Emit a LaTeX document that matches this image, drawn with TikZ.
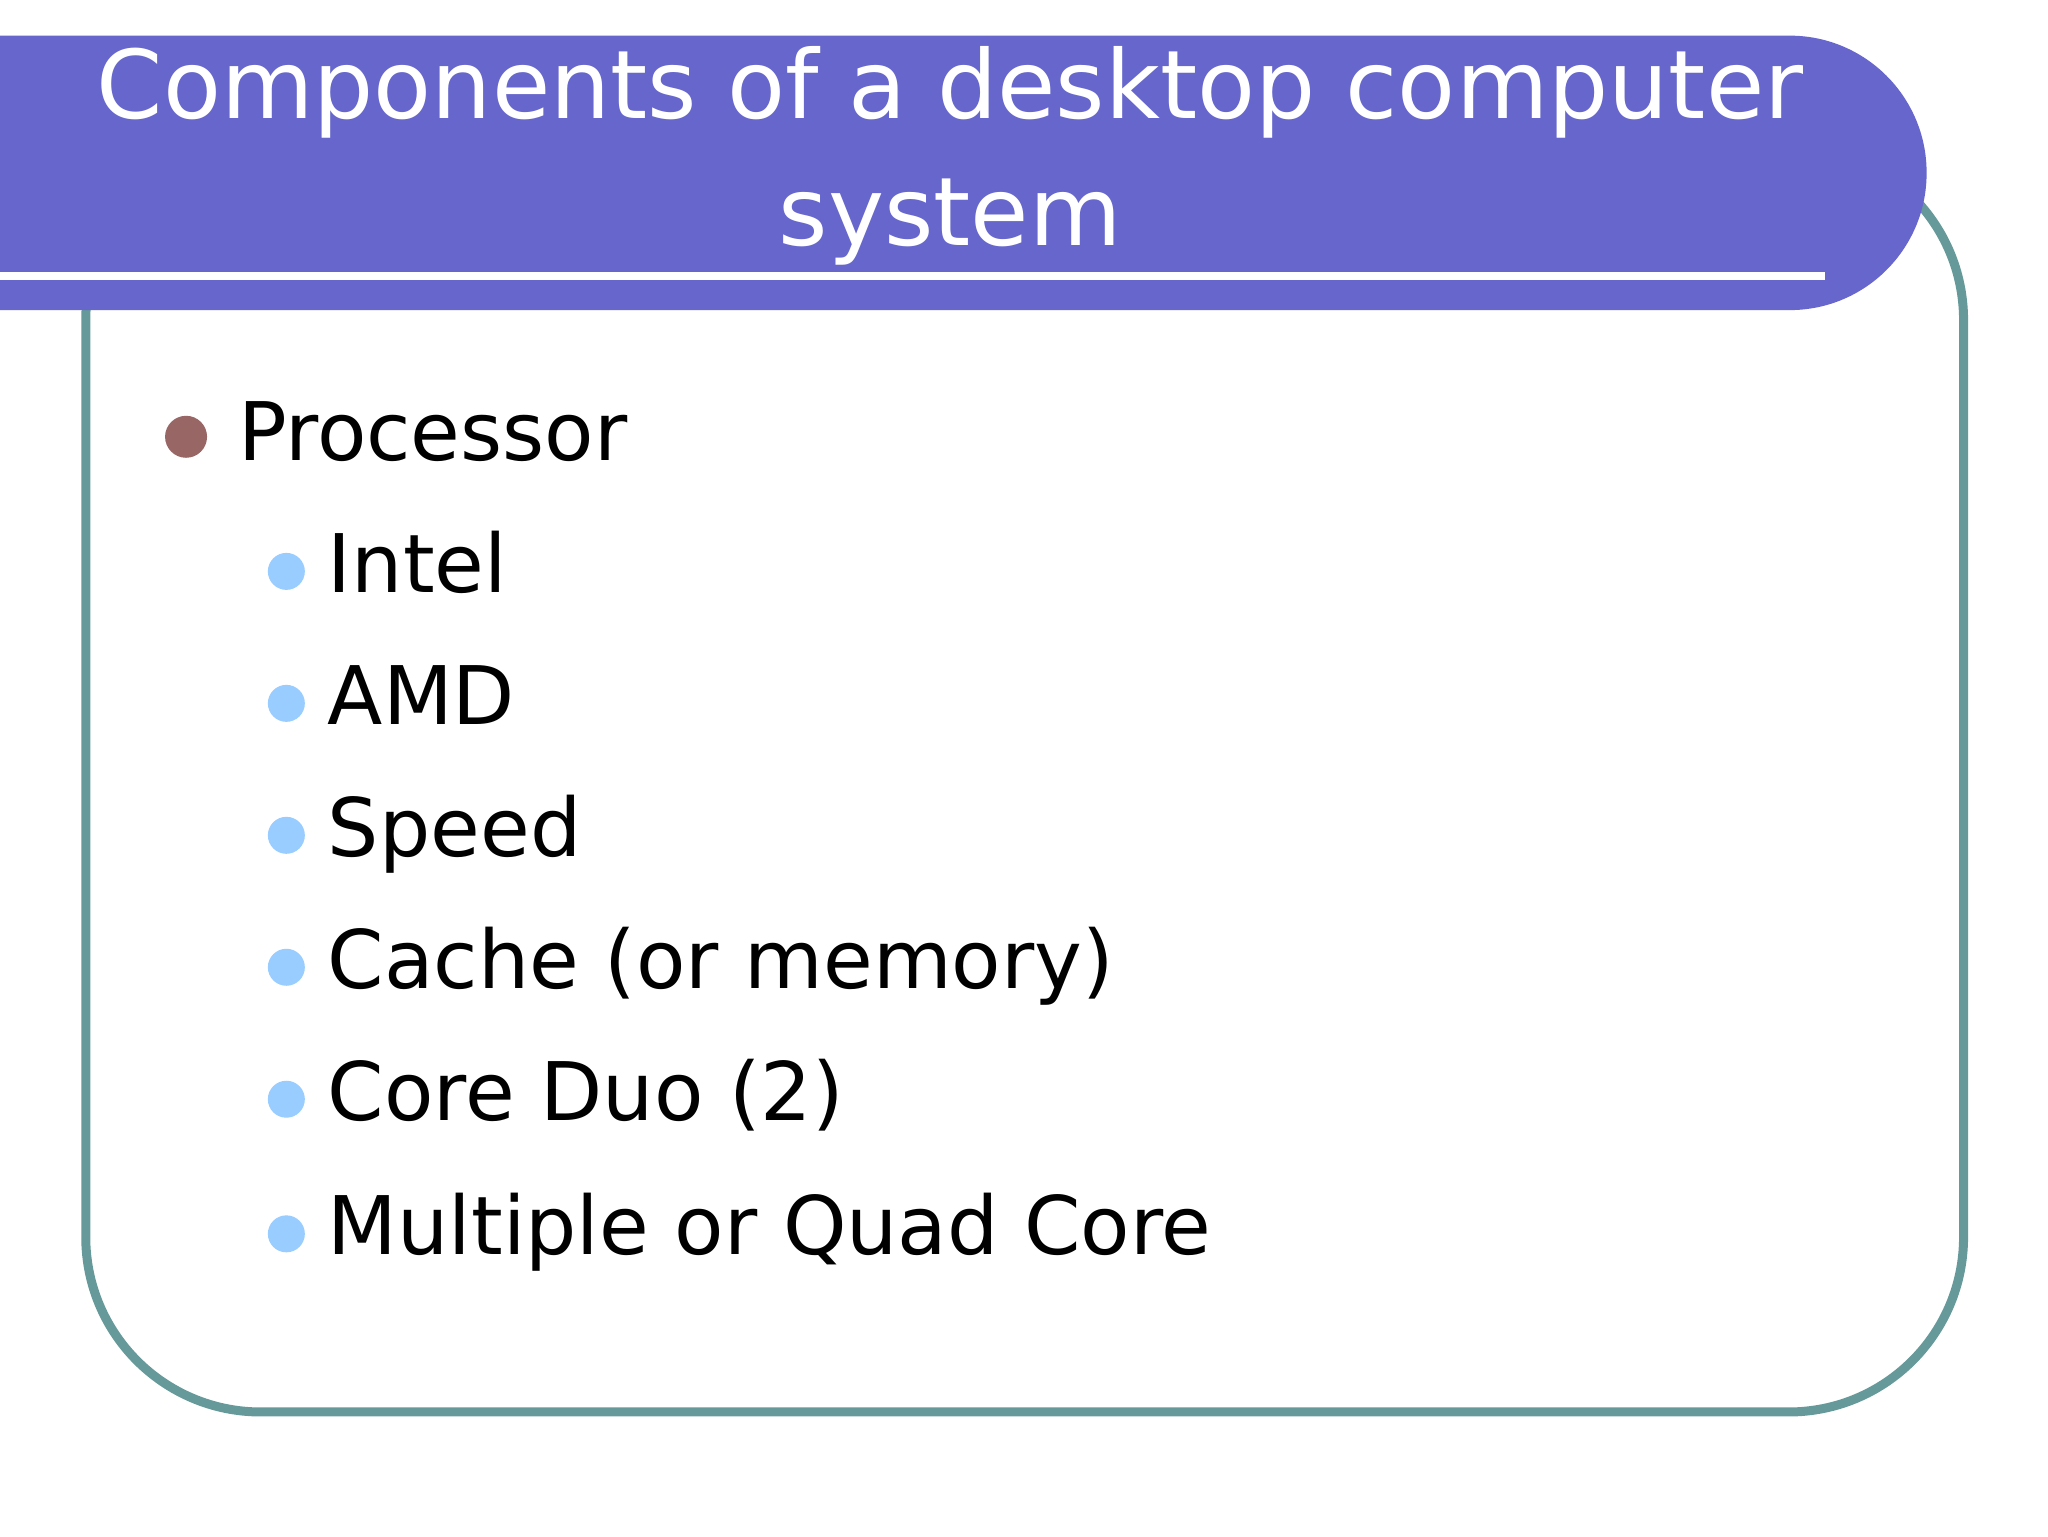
\documentclass[tikz,border=0pt]{standalone}
\usepackage{fontspec}
\setmainfont{DejaVu Sans}
\definecolor{teal1}{HTML}{669999}
\definecolor{hdr}{HTML}{6666CC}
\definecolor{brn}{HTML}{996666}
\definecolor{lblue}{HTML}{99CCFF}
\tikzset{sub/.style={anchor=base west,font=\fontsize{23}{27}\selectfont,inner sep=0pt},
 sdot/.style={circle,fill=lblue,minimum size=0.37cm,inner sep=0pt}}
\begin{document}
\begin{tikzpicture}[x=0.0132cm,y=-0.0132cm]
\useasboundingbox (0,0) rectangle (1552,1164);
\fill[white] (0,0) rectangle (1552,1164);
\draw[teal1,line width=0.09cm,rounded corners=1.75cm] (65,110) rectangle (1488,1070);
\fill[hdr,rounded corners=1.37cm] (-300,27) rectangle (1460,235);
\fill[white] (0,206) rectangle (1383,212);
\node[text=white,font=\fontsize{27}{36}\selectfont,align=center] (title) at (720,118) {Components of a desktop computer\\system};
\node[circle,fill=brn,minimum size=0.42cm,inner sep=0pt] (d0) at (141,331) {};
\node[sub] (t0) at (180,349) {Processor};
\foreach \y/\t [count=\i] in {433/Intel,533/AMD,633/Speed,733/Cache (or memory),833/Core Duo (2),935/Multiple or Quad Core}{
  \node[sdot] (d\i) at (217,\y) {};
  \node[sub] (t\i) at (248,\y+16) {\t};
}
\end{tikzpicture}
\end{document}
